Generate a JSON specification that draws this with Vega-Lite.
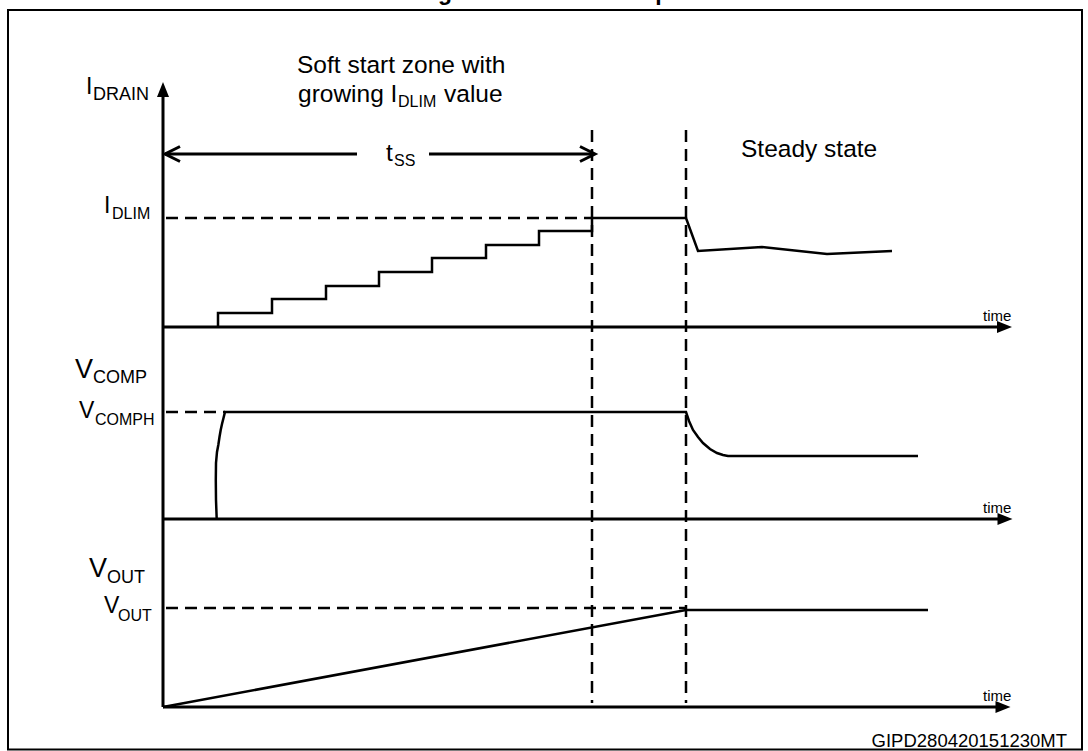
{
  "$schema": "https://vega.github.io/schema/vega-lite/v6.json",
  "width": 1088,
  "height": 751,
  "padding": 0,
  "autosize": {"type": "none"},
  "background": "white",
  "config": {"view": {"stroke": null}},
  "datasets": {
    "frame": [{"t": -155, "t2": 919, "y": 10, "y2": 749.5}],
    "axes": [
      {"id": "yaxis", "i": 0, "t": 0, "y": 92},
      {"id": "yaxis", "i": 1, "t": 0, "y": 707},
      {"id": "x1", "i": 0, "t": 0, "y": 327},
      {"id": "x1", "i": 1, "t": 840, "y": 327},
      {"id": "x2", "i": 0, "t": 0, "y": 519},
      {"id": "x2", "i": 1, "t": 840, "y": 519},
      {"id": "x3", "i": 0, "t": 0, "y": 707},
      {"id": "x3", "i": 1, "t": 838, "y": 707},
      {"id": "tssL", "i": 0, "t": 2, "y": 154},
      {"id": "tssL", "i": 1, "t": 194, "y": 154},
      {"id": "tssR", "i": 0, "t": 266, "y": 154},
      {"id": "tssR", "i": 1, "t": 430, "y": 154}
    ],
    "signals": [
      {"id": "idrain", "i": 0, "t": 55, "y": 327},
      {"id": "idrain", "i": 1, "t": 55, "y": 313},
      {"id": "idrain", "i": 2, "t": 109, "y": 313},
      {"id": "idrain", "i": 3, "t": 109, "y": 299},
      {"id": "idrain", "i": 4, "t": 163, "y": 299},
      {"id": "idrain", "i": 5, "t": 163, "y": 286},
      {"id": "idrain", "i": 6, "t": 216, "y": 286},
      {"id": "idrain", "i": 7, "t": 216, "y": 272},
      {"id": "idrain", "i": 8, "t": 269, "y": 272},
      {"id": "idrain", "i": 9, "t": 269, "y": 258},
      {"id": "idrain", "i": 10, "t": 323, "y": 258},
      {"id": "idrain", "i": 11, "t": 323, "y": 245},
      {"id": "idrain", "i": 12, "t": 376, "y": 245},
      {"id": "idrain", "i": 13, "t": 376, "y": 231},
      {"id": "idrain", "i": 14, "t": 429, "y": 231},
      {"id": "idrain", "i": 15, "t": 429, "y": 218},
      {"id": "idrain", "i": 16, "t": 523, "y": 218},
      {"id": "idrain", "i": 17, "t": 535, "y": 251},
      {"id": "idrain", "i": 18, "t": 599, "y": 247},
      {"id": "idrain", "i": 19, "t": 664, "y": 254},
      {"id": "idrain", "i": 20, "t": 729, "y": 251},
      {"id": "vcomp", "i": 0, "t": 53.7, "y": 519},
      {"id": "vcomp", "i": 1, "t": 53, "y": 500},
      {"id": "vcomp", "i": 2, "t": 52.8, "y": 480},
      {"id": "vcomp", "i": 3, "t": 53, "y": 463},
      {"id": "vcomp", "i": 4, "t": 54, "y": 452},
      {"id": "vcomp", "i": 5, "t": 55.3, "y": 445},
      {"id": "vcomp", "i": 6, "t": 56.5, "y": 437},
      {"id": "vcomp", "i": 7, "t": 57.7, "y": 430},
      {"id": "vcomp", "i": 8, "t": 59, "y": 424},
      {"id": "vcomp", "i": 9, "t": 60.5, "y": 418},
      {"id": "vcomp", "i": 10, "t": 62, "y": 412},
      {"id": "vcomp", "i": 11, "t": 523, "y": 412},
      {"id": "vcomp", "i": 12, "t": 526, "y": 421},
      {"id": "vcomp", "i": 13, "t": 530, "y": 430},
      {"id": "vcomp", "i": 14, "t": 535, "y": 437},
      {"id": "vcomp", "i": 15, "t": 540, "y": 443},
      {"id": "vcomp", "i": 16, "t": 547, "y": 449},
      {"id": "vcomp", "i": 17, "t": 554, "y": 453},
      {"id": "vcomp", "i": 18, "t": 560, "y": 455},
      {"id": "vcomp", "i": 19, "t": 565, "y": 456},
      {"id": "vcomp", "i": 20, "t": 755, "y": 456},
      {"id": "vout", "i": 0, "t": 0, "y": 707},
      {"id": "vout", "i": 1, "t": 523, "y": 610},
      {"id": "vout", "i": 2, "t": 765, "y": 610}
    ],
    "dashed": [
      {"id": "d1", "i": 0, "t": 429, "y": 130},
      {"id": "d1", "i": 1, "t": 429, "y": 703},
      {"id": "d2", "i": 0, "t": 523, "y": 130},
      {"id": "d2", "i": 1, "t": 523, "y": 703},
      {"id": "h1", "i": 0, "t": 3, "y": 218},
      {"id": "h1", "i": 1, "t": 429, "y": 218},
      {"id": "h2", "i": 0, "t": 3, "y": 412},
      {"id": "h2", "i": 1, "t": 62, "y": 412},
      {"id": "h3", "i": 0, "t": 3, "y": 608},
      {"id": "h3", "i": 1, "t": 523, "y": 608}
    ],
    "arrows": [
      {"dir": "right", "t": 841.5, "y": 327},
      {"dir": "right", "t": 842, "y": 519},
      {"dir": "right", "t": 840, "y": 707},
      {"dir": "up", "t": 0, "y": 89.5},
      {"dir": "openleft", "t": 9.5, "y": 154},
      {"dir": "openright", "t": 424.5, "y": 154}
    ],
    "texts": [
      {"kind": "title", "text": "Figure 27. Soft-start operation", "t": 254.5, "y": 0},
      {"kind": "ann", "text": "Soft start zone with", "t": 134, "y": 73},
      {"kind": "ann", "text": "growing I", "t": 135, "y": 102},
      {"kind": "lvlsub", "text": "DLIM", "t": 235, "y": 107},
      {"kind": "ann", "text": "value", "t": 281, "y": 102},
      {"kind": "ann", "text": "t", "t": 223, "y": 161},
      {"kind": "lvlsub", "text": "SS", "t": 231, "y": 166},
      {"kind": "ann", "text": "Steady state", "t": 578, "y": 157},
      {"kind": "lvl", "text": "I", "t": -77, "y": 93.5},
      {"kind": "sigsub", "text": "DRAIN", "t": -70, "y": 100},
      {"kind": "lvl", "text": "I", "t": -59, "y": 213},
      {"kind": "lvlsub", "text": "DLIM", "t": -51, "y": 219},
      {"kind": "sig", "text": "V", "t": -88, "y": 378},
      {"kind": "sigsub", "text": "COMP", "t": -70, "y": 383},
      {"kind": "lvl", "text": "V", "t": -84, "y": 418},
      {"kind": "lvlsub", "text": "COMPH", "t": -68, "y": 425},
      {"kind": "sig", "text": "V", "t": -74, "y": 577},
      {"kind": "sigsub", "text": "OUT", "t": -56, "y": 583},
      {"kind": "lvl", "text": "V", "t": -59, "y": 613},
      {"kind": "lvlsub", "text": "OUT", "t": -45, "y": 621},
      {"kind": "time", "text": "time", "t": 820, "y": 321},
      {"kind": "time", "text": "time", "t": 820, "y": 513},
      {"kind": "time", "text": "time", "t": 820, "y": 701},
      {"kind": "code", "text": "GIPD280420151230MT", "t": 904, "y": 747}
    ]
  },
  "encoding": {
    "x": {"field": "t", "type": "quantitative", "scale": {"domain": [-163, 925], "nice": false, "zero": false}, "axis": null},
    "y": {"field": "y", "type": "quantitative", "scale": {"domain": [0, 751], "reverse": true, "nice": false, "zero": false}, "axis": null}
  },
  "layer": [
    {
      "data": {"name": "frame"},
      "mark": {"type": "rect", "fill": "transparent", "stroke": "black", "strokeWidth": 2},
      "encoding": {"x2": {"field": "t2"}, "y2": {"field": "y2"}}
    },
    {
      "data": {"name": "dashed"},
      "mark": {"type": "line", "color": "black", "strokeWidth": 2.5, "strokeDash": [12, 7], "strokeCap": "butt"},
      "encoding": {"detail": {"field": "id"}, "order": {"field": "i", "type": "quantitative"}}
    },
    {
      "data": {"name": "axes"},
      "mark": {"type": "line", "color": "black", "strokeWidth": 3},
      "encoding": {"detail": {"field": "id"}, "order": {"field": "i", "type": "quantitative"}}
    },
    {
      "data": {"name": "signals"},
      "mark": {"type": "line", "color": "black", "strokeWidth": 2.5, "strokeJoin": "miter"},
      "encoding": {"detail": {"field": "id"}, "order": {"field": "i", "type": "quantitative"}}
    },
    {
      "data": {"name": "arrows"},
      "transform": [{"filter": "datum.dir === 'right'"}],
      "mark": {"type": "point", "shape": "M-1,-0.8L1,0L-1,0.8Z", "size": 225, "filled": true, "color": "black", "opacity": 1, "strokeWidth": 0}
    },
    {
      "data": {"name": "arrows"},
      "transform": [{"filter": "datum.dir === 'up'"}],
      "mark": {"type": "point", "shape": "M0,-1L0.8,1L-0.8,1Z", "size": 225, "filled": true, "color": "black", "opacity": 1, "strokeWidth": 0}
    },
    {
      "data": {"name": "arrows"},
      "transform": [{"filter": "datum.dir === 'openleft'"}],
      "mark": {"type": "point", "shape": "M1,-1L-1,0L1,1", "size": 225, "filled": false, "color": "black", "opacity": 1, "strokeWidth": 3}
    },
    {
      "data": {"name": "arrows"},
      "transform": [{"filter": "datum.dir === 'openright'"}],
      "mark": {"type": "point", "shape": "M-1,-1L1,0L-1,1", "size": 225, "filled": false, "color": "black", "opacity": 1, "strokeWidth": 3}
    },
    {
      "data": {"name": "texts"},
      "transform": [{"filter": "datum.kind === 'ann'"}],
      "mark": {"type": "text", "font": "Liberation Sans", "fontSize": 24.5, "align": "left", "baseline": "alphabetic", "color": "black"},
      "encoding": {"text": {"field": "text"}}
    },
    {
      "data": {"name": "texts"},
      "transform": [{"filter": "datum.kind === 'sig'"}],
      "mark": {"type": "text", "font": "Liberation Sans", "fontSize": 27, "align": "left", "baseline": "alphabetic", "color": "black"},
      "encoding": {"text": {"field": "text"}}
    },
    {
      "data": {"name": "texts"},
      "transform": [{"filter": "datum.kind === 'lvl'"}],
      "mark": {"type": "text", "font": "Liberation Sans", "fontSize": 23, "align": "left", "baseline": "alphabetic", "color": "black"},
      "encoding": {"text": {"field": "text"}}
    },
    {
      "data": {"name": "texts"},
      "transform": [{"filter": "datum.kind === 'sigsub'"}],
      "mark": {"type": "text", "font": "Liberation Sans", "fontSize": 18, "align": "left", "baseline": "alphabetic", "color": "black"},
      "encoding": {"text": {"field": "text"}}
    },
    {
      "data": {"name": "texts"},
      "transform": [{"filter": "datum.kind === 'lvlsub'"}],
      "mark": {"type": "text", "font": "Liberation Sans", "fontSize": 16, "align": "left", "baseline": "alphabetic", "color": "black"},
      "encoding": {"text": {"field": "text"}}
    },
    {
      "data": {"name": "texts"},
      "transform": [{"filter": "datum.kind === 'time'"}],
      "mark": {"type": "text", "font": "Liberation Sans", "fontSize": 15, "align": "left", "baseline": "alphabetic", "color": "black"},
      "encoding": {"text": {"field": "text"}}
    },
    {
      "data": {"name": "texts"},
      "transform": [{"filter": "datum.kind === 'code'"}],
      "mark": {"type": "text", "font": "Liberation Sans", "fontSize": 18.5, "align": "right", "baseline": "alphabetic", "color": "black"},
      "encoding": {"text": {"field": "text"}}
    },
    {
      "data": {"name": "texts"},
      "transform": [{"filter": "datum.kind === 'title'"}],
      "mark": {"type": "text", "font": "Liberation Sans", "fontSize": 23, "fontWeight": "bold", "align": "left", "baseline": "alphabetic", "color": "black"},
      "encoding": {"text": {"field": "text"}}
    }
  ]
}
